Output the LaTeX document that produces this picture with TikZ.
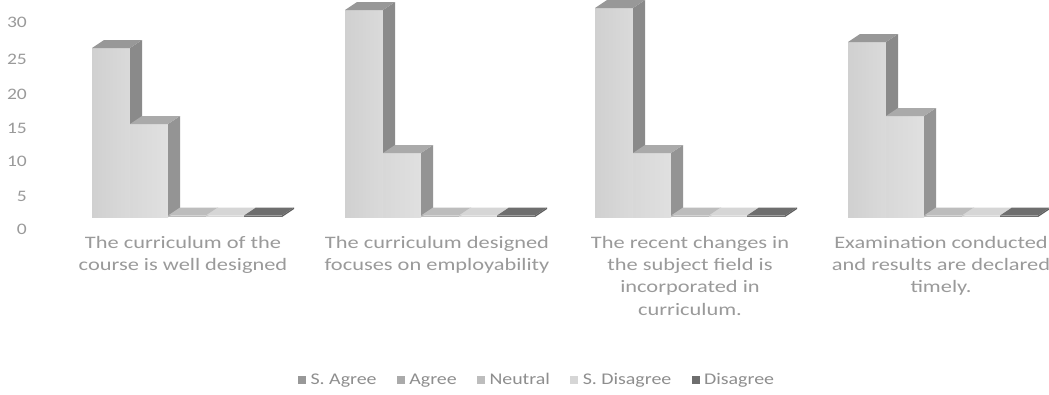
\documentclass[tikz,border=0pt]{standalone}
\usepackage{fontspec}
\usetikzlibrary{positioning}
\setmainfont[FakeStretch=1.22]{Carlito}
\newfontfamily\catfont[FakeStretch=1.28]{Carlito}
\definecolor{txt}{HTML}{9A9A9A}
\definecolor{legtxt}{HTML}{8E8E8E}
\definecolor{frontA}{HTML}{D0D0D0}
\definecolor{frontAb}{HTML}{DADADA}
\definecolor{sideA}{HTML}{8A8A8A}
\definecolor{topA}{HTML}{989898}
\definecolor{frontB}{HTML}{D8D8D8}
\definecolor{frontBb}{HTML}{E0E0E0}
\definecolor{sideB}{HTML}{949494}
\definecolor{topB}{HTML}{AAAAAA}
\definecolor{topN}{HTML}{BDBDBD}
\definecolor{topS}{HTML}{D6D6D6}
\definecolor{topD}{HTML}{6E6E6E}
\definecolor{sideD}{HTML}{5E5E5E}
\newcommand\basey{217}
\newcommand\tdbar[6]{%
  \fill[#4] ({#1},\basey) rectangle ({#1+#2},{#3});
  \fill[#5] ({#1+#2},\basey) -- ({#1+#2+12},{\basey-8}) -- ({#1+#2+12},{#3-8}) -- ({#1+#2},{#3}) -- cycle;
  \fill[#6] ({#1},{#3}) -- ({#1+#2},{#3}) -- ({#1+#2+12},{#3-8}) -- ({#1+12},{#3-8}) -- cycle;
}
\begin{document}
\begin{tikzpicture}[x=1pt,y=-1pt,
  axl/.style={anchor=east,inner sep=0pt,text=txt,font=\fontsize{16}{18}\selectfont},
  catl/.style={anchor=north,inner sep=0pt,align=center,text=txt,font=\catfont\fontsize{17.5}{22.3}\selectfont},
  legm/.style={minimum size=8pt,inner sep=0pt},
  legt/.style={inner sep=0pt,text height=8pt,text depth=0pt,text=legtxt,font=\fontsize{16.3}{19}\selectfont}]
\useasboundingbox[fill=white] (0,0) rectangle (1049,394);
% y axis labels
\node[axl] (a30) at (27,22) {30};
\node[axl] (a25) at (27,59) {25};
\node[axl] (a20) at (27,94) {20};
\node[axl] (a15) at (27,128) {15};
\node[axl] (a10) at (27,161) {10};
\node[axl] (a5) at (27,196) {5};
\node[axl] (a0) at (27,229) {0};
% bars
\foreach \x/\a/\b in {92/48/124, 345/10/153, 595/8/153, 848/42/116}{
  \tdbar{\x}{38}{\a}{left color=frontA,right color=frontAb}{sideA}{topA}
  \tdbar{\x+38}{38}{\b}{left color=frontB,right color=frontBb}{sideB}{topB}
  \tdbar{\x+76}{38}{215.5}{topN}{topN}{topN}
  \tdbar{\x+114}{38}{215.5}{topS}{topS}{topS}
  \tdbar{\x+152}{38}{215.5}{topD}{sideD}{topD}
}
% category labels
\node[catl] (c1) at (183,236) {The curriculum of the\\course is well designed};
\node[catl] (c2) at (437,236) {The curriculum designed\\focuses on employability};
\node[catl] (c3) at (690,236) {The recent changes in\\the subject field is\\incorporated in\\curriculum.};
\node[catl] (c4) at (941,236) {Examination conducted\\and results are declared\\timely.};
% legend
\node[legm,fill=topA,anchor=west] (m1) at (298,380) {};
\node[legt,right=4pt of m1] (l1) {S. Agree};
\node[legm,fill=topB,right=20pt of l1] (m2) {};
\node[legt,right=4pt of m2] (l2) {Agree};
\node[legm,fill=topN,right=20pt of l2] (m3) {};
\node[legt,right=4pt of m3] (l3) {Neutral};
\node[legm,fill=topS,right=20pt of l3] (m4) {};
\node[legt,right=4pt of m4] (l4) {S. Disagree};
\node[legm,fill=topD,right=20pt of l4] (m5) {};
\node[legt,right=4pt of m5] (l5) {Disagree};
\end{tikzpicture}
\end{document}
